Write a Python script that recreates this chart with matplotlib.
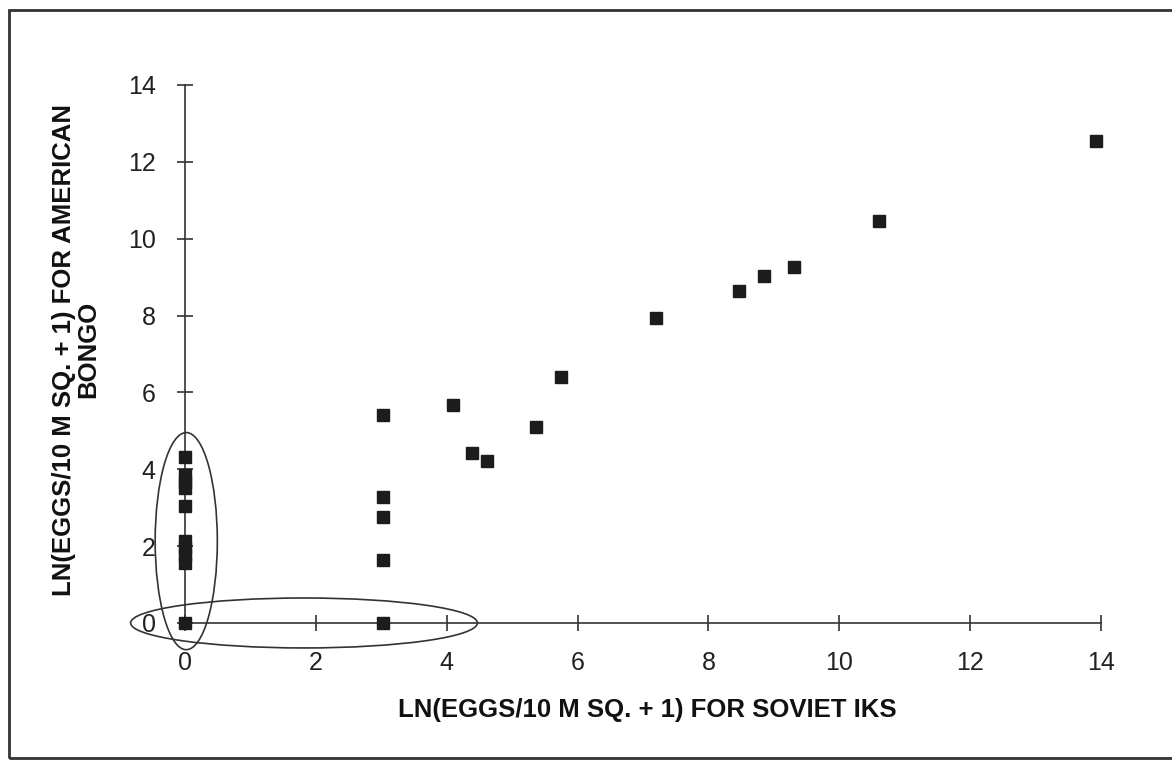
import matplotlib.pyplot as plt
from matplotlib.patches import Ellipse, Rectangle

# LN(eggs/10 m sq. + 1) for Soviet IKS (x) vs American BONGO (y)
soviet_iks = [0, 0, 0, 0, 0, 0, 0, 0, 0, 0,
              3.02, 3.02, 3.02, 3.02, 3.02,
              4.09, 4.38, 4.61, 5.37, 5.74, 7.2, 8.47, 8.85, 9.31, 10.61, 13.92]
american_bongo = [4.33, 3.85, 3.68, 3.5, 3.05, 2.14, 1.95, 1.76, 1.57, 0,
                  5.42, 3.28, 2.76, 1.64, 0,
                  5.66, 4.43, 4.22, 5.10, 6.41, 7.94, 8.65, 9.04, 9.27, 10.47, 12.55]
ticks = [0, 2, 4, 6, 8, 10, 12, 14]

fig = plt.figure(figsize=(11.72, 7.6), dpi=100)
ax = fig.add_axes([0.1578, 0.1803, 0.7816, 0.7079])

ax.plot(soviet_iks, american_bongo, linestyle='none', marker='s', ms=8.5,
        color='#1c1c1c', clip_on=False, zorder=3)

ax.set_xlim(0, 14)
ax.set_ylim(0, 14)
ax.set_xticks(ticks)
ax.set_yticks(ticks)
for s in ['top', 'right']:
    ax.spines[s].set_visible(False)
for s in ['left', 'bottom']:
    ax.spines[s].set_linewidth(1.2)
    ax.spines[s].set_color('#333333')
ax.tick_params(direction='inout', length=12, width=1.2, color='#333333',
               labelsize=18, labelcolor='#222222')
ax.tick_params(axis='x', pad=14)
ax.tick_params(axis='y', pad=15)
for lbl in ax.get_xticklabels() + ax.get_yticklabels():
    lbl.set_family(['Liberation Sans', 'DejaVu Sans'])

# hand-drawn circles around the zero groups
ax.add_patch(Ellipse((0.02, 2.13), 0.95, 5.65, fill=False, lw=1.2,
                     edgecolor='#333333', clip_on=False))
ax.add_patch(Ellipse((1.82, 0.0), 5.3, 1.3, fill=False, lw=1.2,
                     edgecolor='#333333', clip_on=False))

fig.text(0.552, 0.066, 'LN(EGGS/10 M SQ. + 1) FOR SOVIET IKS', ha='center',
         va='center', fontsize=18.5, fontweight='bold',
         family=['Liberation Sans', 'DejaVu Sans'], color='#111111')
fig.text(0.065, 0.54, 'LN(EGGS/10 M SQ. + 1) FOR AMERICAN\nBONGO', ha='center',
         va='center', rotation=90, fontsize=18.5, fontweight='bold',
         family=['Liberation Sans', 'DejaVu Sans'], color='#111111', linespacing=1.0)

# page border
fig.patches.append(Rectangle((0.008, 0.003), 1.2, 0.984, fill=False, lw=2,
                             edgecolor='#333333', transform=fig.transFigure))

fig.savefig('out.png', dpi=100)
